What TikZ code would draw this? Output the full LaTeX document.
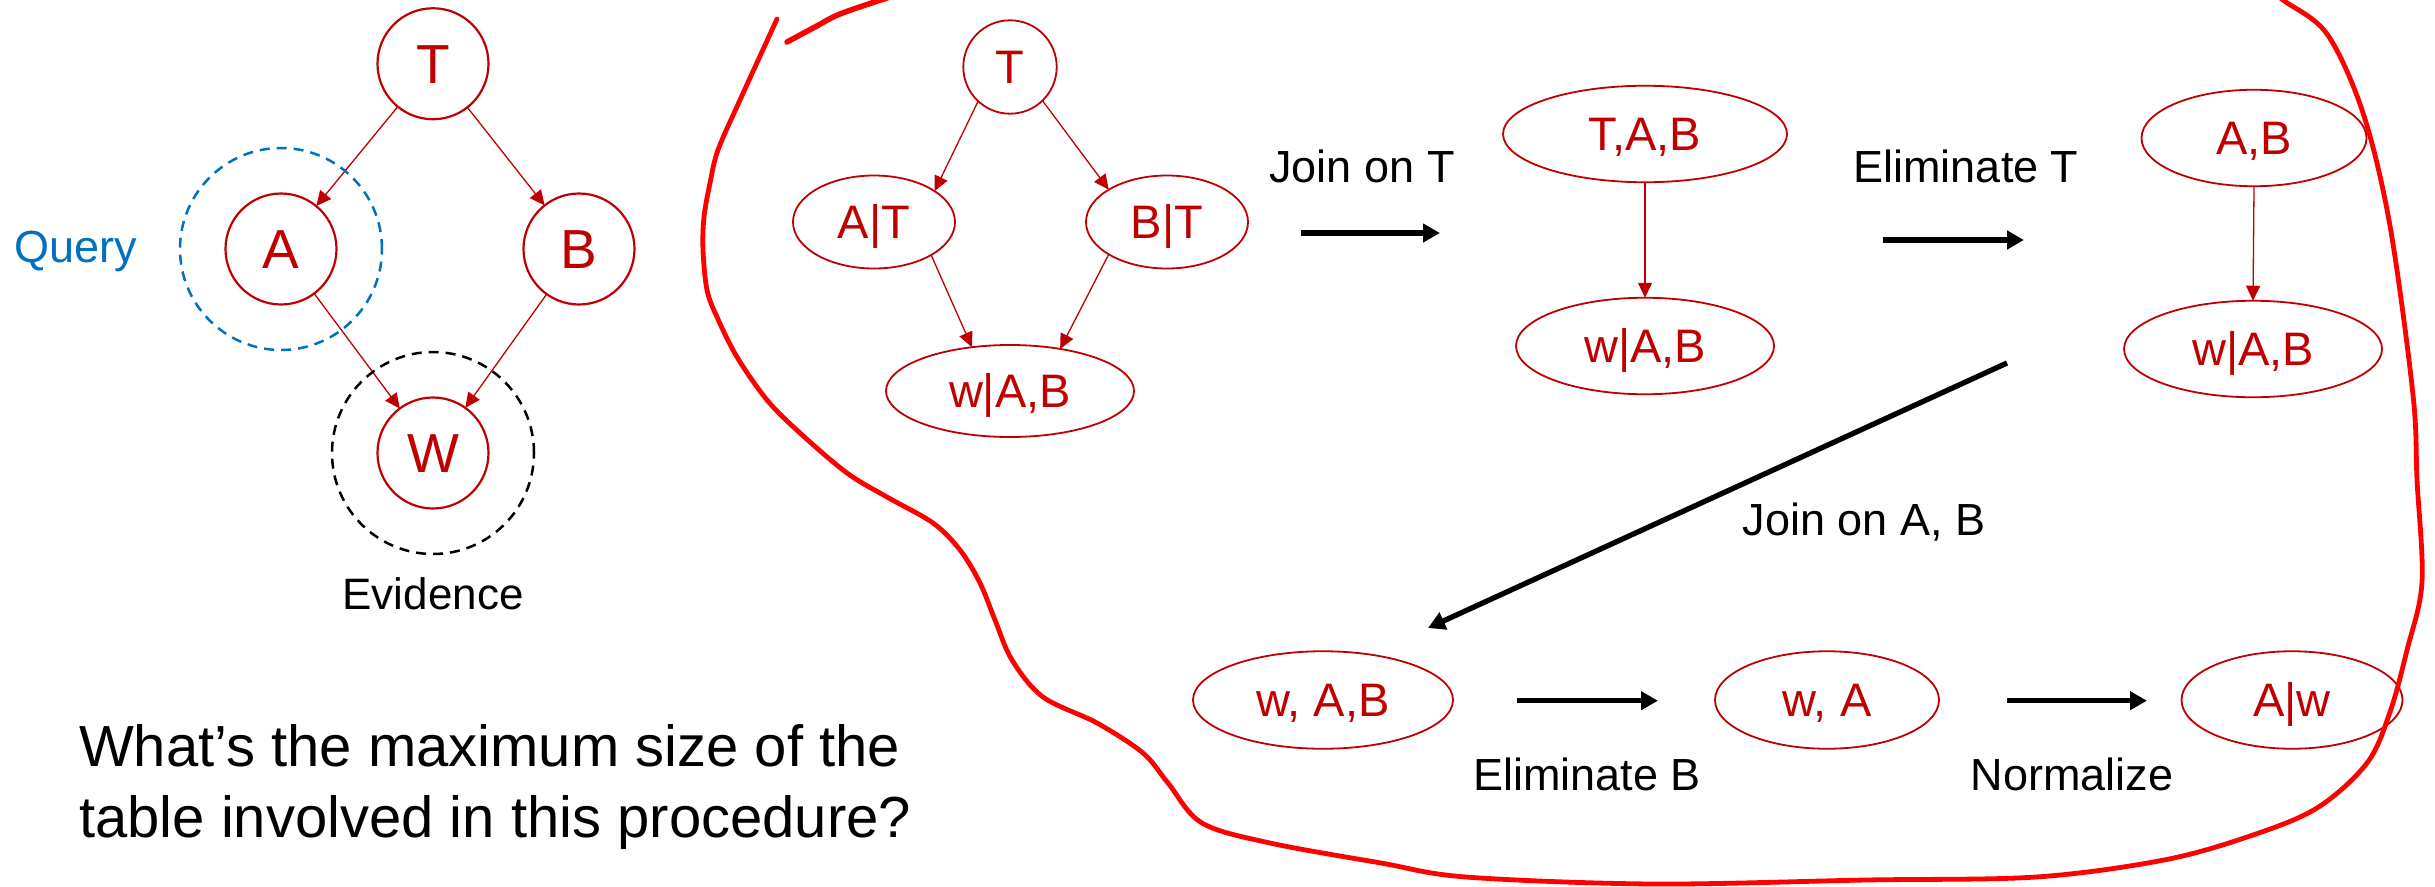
\documentclass[tikz,border=0pt]{standalone}
\usepackage{fontspec}
\setmainfont{Liberation Sans}
\usetikzlibrary{arrows.meta,shapes.geometric}
\definecolor{nodered}{RGB}{192,0,0}
\definecolor{qblue}{RGB}{0,112,192}
\definecolor{penred}{RGB}{255,0,0}

\begin{document}
\begin{tikzpicture}[x=1pt,y=-1pt,
  bn/.style={circle, draw=nodered, line width=2.2pt, text=nodered,
    minimum size=111pt, inner sep=0pt, outer sep=0pt,
    font=\fontsize{55pt}{60pt}\selectfont, text height=39.4pt, text depth=0pt},
  fac/.style={ellipse, draw=nodered, line width=1.8pt, text=nodered,
    inner sep=0pt, outer sep=0pt,
    font=\fontsize{47pt}{52pt}\selectfont, text height=33.6pt, text depth=0pt},
  redge/.style={draw=nodered, line width=1.3pt, -{Triangle[length=15pt,width=14pt]}},
  bigarrow/.style={draw=black, line width=5.3pt, -{Triangle[length=17pt,width=18pt]}},
  ring/.style={circle, draw, dashed, dash pattern=on 10pt off 7pt, line width=2.5pt,
    minimum size=202pt, inner sep=0pt},
  lab/.style={anchor=base, inner sep=0pt, font=\fontsize{45pt}{50pt}\selectfont},
  pen/.style={draw=penred, line width=4.8pt, line cap=round, line join=round}
]
\useasboundingbox (0,0) rectangle (2435,886);
\fill[white] (0,0) rectangle (2435,886);

% ---- Bayes net with query and evidence ----
\node[bn] (T) at (433,63.75) {T};
\node[bn] (A) at (281,249) {A};
\node[bn] (B) at (579,249) {B};
\node[bn] (W) at (433,453) {W};
\draw[redge] (T) -- (A);
\draw[redge] (T) -- (B);
\draw[redge] (A) -- (W);
\draw[redge] (B) -- (W);
\node[ring, draw=qblue] (qring) at (A.center) {};
\node[ring, draw=black] (ering) at (W.center) {};
\node[lab, text=qblue] (qlab) at (75.5,262) {Query};
\node[lab, font=\fontsize{44pt}{50pt}\selectfont] (elab) at (433,609.6) {Evidence};

% ---- question ----
\node[anchor=base west, inner sep=0pt, font=\fontsize{58pt}{70pt}\selectfont] (q1) at (79,766.7) {What’s the maximum size of the};
\node[anchor=base west, inner sep=0pt, font=\fontsize{58pt}{70pt}\selectfont] (q2) at (79,837) {table involved in this procedure?};

% ---- factors ----
\node[fac, minimum width=93.4pt, minimum height=93.4pt] (T2) at (1010,67) {T};
\node[fac, minimum width=162pt, minimum height=93pt] (AT) at (874,222) {A|T};
\node[fac, minimum width=162pt, minimum height=93pt] (BT) at (1167,222) {B|T};
\node[fac, minimum width=248pt, minimum height=92pt] (wab1) at (1010,391) {w|A,B};
\draw[redge] (T2.227) -- (AT.27);
\draw[redge] (T2.314) -- (BT.151);
\draw[redge] (AT.330) -- (wab1.131);
\draw[redge] (BT.209) -- (wab1.40);

\node[fac, minimum width=284pt, minimum height=96.5pt] (tab) at (1645,134) {T,A,B};
\node[fac, minimum width=258pt, minimum height=96.5pt] (wab2) at (1645,346) {w|A,B};
\draw[redge] (tab.south) -- (wab2.north);

\node[fac, minimum width=225pt, minimum height=96.5pt] (ab) at (2254,138) {A,B};
\node[fac, minimum width=258pt, minimum height=96.5pt] (wab3) at (2253,349) {w|A,B};
\draw[redge] (ab.south) -- (wab3.north);

\node[fac, minimum width=260pt, minimum height=97.5pt] (wab4) at (1323,700) {w, A,B};
\node[fac, minimum width=224pt, minimum height=97.5pt] (wa) at (1827,700) {w, A};
\node[fac, minimum width=221pt, minimum height=97.5pt] (aw) at (2292,700) {A|w};

% ---- step arrows and their labels ----
\coordinate (s1a) at (1301,233); \coordinate (s1b) at (1440,233);
\coordinate (s2a) at (1883,240); \coordinate (s2b) at (2024,240);
\coordinate (s3a) at (2007,363); \coordinate (s3b) at (1428,628);
\coordinate (s4a) at (1517,700.7); \coordinate (s4b) at (1658,700.7);
\coordinate (s5a) at (2007,700.7); \coordinate (s5b) at (2147,700.7);
\draw[bigarrow] (s1a) -- (s1b);
\draw[bigarrow] (s2a) -- (s2b);
\draw[bigarrow] (s3a) -- (s3b);
\draw[bigarrow] (s4a) -- (s4b);
\draw[bigarrow] (s5a) -- (s5b);
\node[lab] (l1) at (1362,182) {Join on T};
\node[lab] (l2) at (1966,182) {Eliminate T};
\node[lab] (l3) at (1864,535) {Join on A, B};
\node[lab] (l4) at (1587,790.7) {Eliminate B};
\node[lab] (l5) at (2072,790.7) {Normalize};

% ---- hand-drawn loop around the elimination steps ----
\begin{scope}
\clip (0,0) rectangle (2435,886);
\draw[pen] plot[smooth, tension=0.55] coordinates {
  (777,19) (740,100) (718,150) (710,183) (704,217) (703,250) (707,290)
  (717,317) (737,357) (767,400) (800,433) (847,473) (887,497) (933,523)
  (960,550) (980,583) (995,620) (1012,660) (1043,697)
  (1097,723) (1143,753) (1168,783) (1202,823) (1270,843) (1381,863)
  (1466,877) (1653,884) (1866,880) (2036,877) (2164,860) (2250,836)
  (2317,808) (2367,763) (2390,712) (2407,650) (2422,582) (2417,480)
  (2413,395) (2390,226) (2363,113) (2327,34) (2283,0) (2250,-25)};
\draw[pen, line width=5.5pt] plot[smooth, tension=0.55] coordinates {
  (787,42) (815,27) (840,14) (890,-3) (920,-12)};
\end{scope}
\end{tikzpicture}
\end{document}
